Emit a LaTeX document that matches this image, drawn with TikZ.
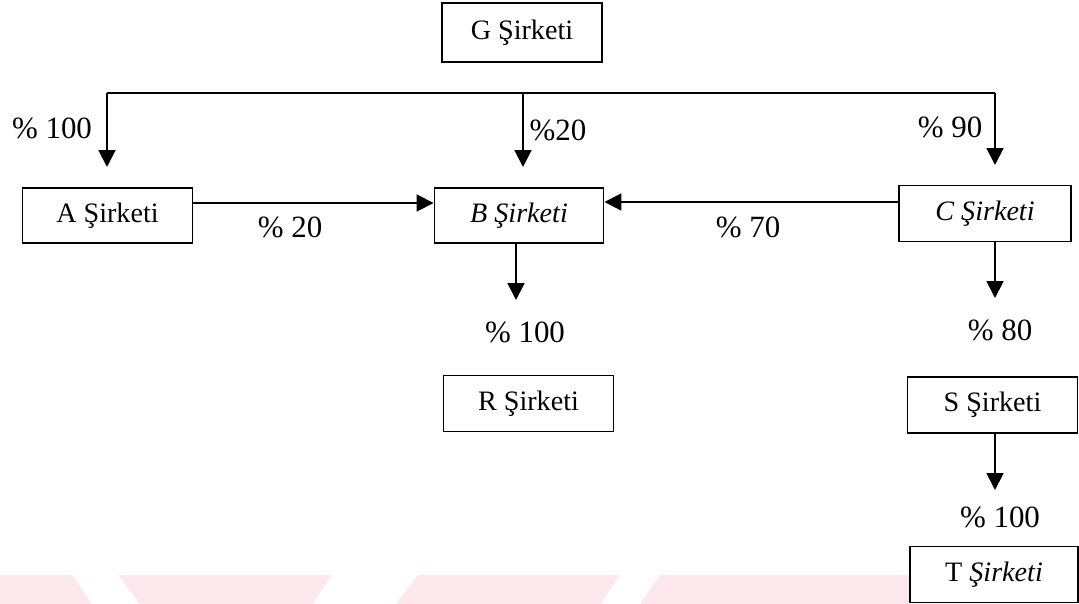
\documentclass[tikz,border=0pt]{standalone}
\usepackage{fontspec}
\setmainfont{Liberation Serif}
\usetikzlibrary{arrows.meta}
\definecolor{cWm}{HTML}{FCE8EC}

\begin{document}
\begin{tikzpicture}[x=0.025cm,y=-0.025cm,>={Triangle[width=12pt,length=12pt]},
  firm/.style={draw,line width=1.35pt,minimum width=4.25cm,minimum height=1.4cm,inner sep=0pt,font=\fontsize{20}{24}\selectfont},
  pct/.style={font=\fontsize{22}{26}\selectfont,inner sep=0pt},
  link/.style={line width=1.4pt}]
\useasboundingbox (0,0) rectangle (1079,604);
% faded watermark at the bottom
\fill[cWm] (0,575) -- (72,575) -- (92,604) -- (0,604) -- cycle;
\fill[cWm] (118,575) -- (332,575) -- (312,604) -- (140,604) -- cycle;
\fill[cWm] (418,575) -- (620,575) -- (600,604) -- (396,604) -- cycle;
\fill[cWm] (660,575) -- (830,575) -- (808,604) -- (640,604) -- cycle;
\fill[cWm] (822,575) -- (910,575) -- (910,604) -- (800,604) -- cycle;
% companies
\node[firm,minimum width=4.0cm,minimum height=1.475cm] (G) at (522,32.5) {G Şirketi};
\node[firm,minimum height=1.375cm] (A) at (107.5,215.5) {A Şirketi};
\node[firm,minimum width=4.225cm,minimum height=1.375cm] (B) at (519,215.5) {\textit{B Şirketi}};
\node[firm,minimum width=4.3cm] (C) at (985,213.5) {\textit{C Şirketi}};
\node[firm] (R) at (528.5,403.5) {R Şirketi};
\node[firm] (S) at (992.5,405) {S Şirketi};
\node[firm,minimum width=4.2cm] (T) at (994,574.5) {T \textit{Şirketi}};
% arrow ends
\coordinate (bus) at (522,93);
\coordinate (aTip) at (107,167);
\coordinate (bTip) at (523,167);
\coordinate (cTip) at (995,165);
\coordinate (rTip) at (516,300);
\coordinate (sTip) at (995,298);
\coordinate (tTip) at (995,490);
% G holdings
\draw[link] (aTip |- bus) -- (cTip |- bus);
\draw[link,->] (aTip |- bus) -- (aTip);
\draw[link,->] (bTip |- bus) -- (bTip);
\draw[link,->] (cTip |- bus) -- (cTip);
\node[pct] at (52,128) {\% 100};
\node[pct] at (558,130) {\%20};
\node[pct] at (950,127) {\% 90};
% cross holdings
\draw[link,->] (A.east |- 0,203) -- (B.west |- 0,203);
\draw[link,->] (C.west |- 0,202) -- (B.east |- 0,202);
\node[pct] at (290,227) {\% 20};
\node[pct] at (748,227) {\% 70};
% subsidiaries
\draw[link,->] (B.south -| rTip) -- (rTip);
\draw[link,->] (C.south -| sTip) -- (sTip);
\draw[link,->] (S.south -| tTip) -- (tTip);
\node[pct] at (525,332) {\% 100};
\node[pct] at (1000,330) {\% 80};
\node[pct] at (1000,517) {\% 100};
\end{tikzpicture}
\end{document}
